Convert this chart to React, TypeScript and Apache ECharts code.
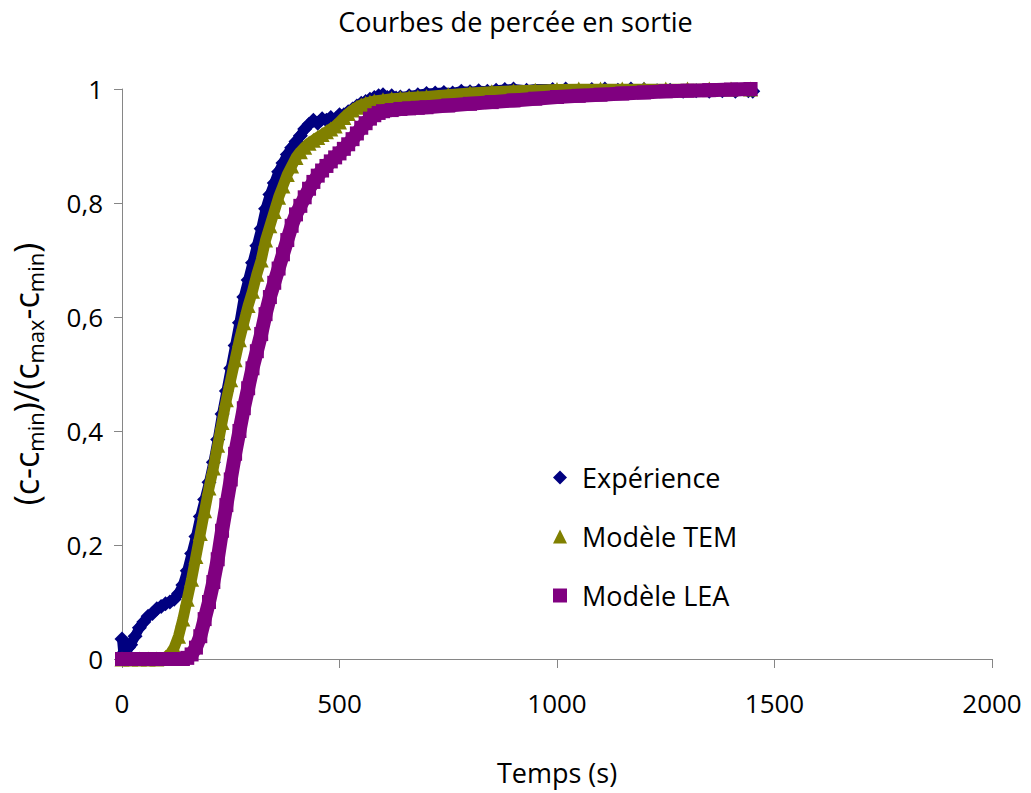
import React, { useEffect, useRef } from "react";
import * as echarts from "echarts";

const TITLE = "Courbes de percée en sortie";
const X_NAME = "Temps (s)";
const SERIES_NAMES = ["Expérience", "Modèle TEM", "Modèle LEA"];
const COLORS = ["#000080", "#808000", "#800080"];

// Expérience (time s, normalised concentration)
const expT = [0, 3, 8, 15, 20, 30, 40, 50, 60, 70, 80, 90, 100, 110, 120, 130, 140, 150, 160, 170, 180, 190,
  200, 210, 220, 230, 240, 250, 260, 270, 280, 290, 300, 310, 320, 330, 340, 350, 360, 370, 380, 390,
  400, 410, 420, 430, 440, 450, 460, 470, 480, 490, 500, 510, 520, 530, 540, 550, 560, 570, 580, 590,
  600, 610, 620, 630, 640, 660, 680, 700, 720, 740, 760, 780, 800, 820, 840, 860, 880, 900, 930, 960,
  990, 1020, 1050, 1080, 1110, 1140, 1170, 1200, 1230, 1260, 1290, 1320, 1350, 1380, 1410, 1440, 1450];
const expC = [0.035, 0.01, 0.012, 0.02, 0.025, 0.04, 0.055, 0.065, 0.075, 0.08, 0.088, 0.092, 0.097, 0.1, 0.105, 0.115, 0.13, 0.155, 0.185, 0.215, 0.25, 0.28,
  0.31, 0.345, 0.385, 0.43, 0.47, 0.51, 0.55, 0.59, 0.635, 0.665, 0.695, 0.725, 0.755, 0.79, 0.815, 0.835, 0.855, 0.87, 0.885, 0.897,
  0.908, 0.918, 0.93, 0.938, 0.945, 0.94, 0.948, 0.945, 0.95, 0.945, 0.955, 0.955, 0.96, 0.965, 0.97, 0.975, 0.978, 0.982, 0.985, 0.988,
  0.99, 0.985, 0.988, 0.984, 0.986, 0.988, 0.99, 0.992, 0.993, 0.994, 0.993, 0.996, 0.995, 0.997, 0.996, 0.998, 0.999, 1.0, 0.998, 1.001,
  0.999, 1.0, 1.002, 0.999, 1.0, 0.998, 1.0, 0.999, 0.997, 0.998, 0.996, 0.997, 0.996, 0.997, 0.996, 0.997, 0.996];

// Modèle TEM
const temT = [0, 20, 40, 60, 80, 100, 110, 120, 130, 140, 150, 160, 170, 180, 190, 200, 210, 220, 230, 240, 250, 260,
  270, 280, 290, 300, 310, 320, 330, 340, 350, 360, 370, 380, 390, 400, 410, 420, 430, 440, 450, 460, 470,
  480, 490, 500, 510, 520, 530, 540, 550, 560, 570, 580, 600, 620, 640, 660, 680, 700, 750, 800, 850, 900,
  950, 1000, 1050, 1100, 1150, 1200, 1250, 1300, 1350, 1400, 1445];
const temC = [0, 0, 0, 0, 0, 0.003, 0.008, 0.02, 0.04, 0.07, 0.105, 0.14, 0.18, 0.22, 0.26, 0.3, 0.335, 0.375, 0.415, 0.455, 0.49, 0.525,
  0.56, 0.59, 0.62, 0.645, 0.675, 0.7, 0.735, 0.76, 0.785, 0.81, 0.83, 0.85, 0.865, 0.88, 0.89, 0.898, 0.905, 0.91, 0.915, 0.92, 0.925,
  0.93, 0.935, 0.942, 0.95, 0.957, 0.963, 0.968, 0.972, 0.975, 0.977, 0.979, 0.981, 0.983, 0.984, 0.985, 0.986, 0.987, 0.99, 0.993, 0.995, 0.997,
  0.998, 0.999, 1.0, 1.0, 1.0, 1.0, 1.0, 1.0, 1.0, 1.0, 1.0];

// Modèle LEA
const leaT = [0, 20, 40, 60, 80, 100, 120, 140, 150, 160, 170, 180, 190, 200, 210, 220, 230, 240, 250, 260, 270, 280,
  290, 300, 310, 320, 330, 340, 350, 360, 370, 380, 390, 400, 410, 420, 430, 440, 450, 460, 470, 480, 490,
  500, 510, 520, 530, 540, 550, 560, 570, 580, 590, 600, 620, 640, 660, 680, 700, 750, 800, 850, 900, 950,
  1000, 1050, 1100, 1150, 1200, 1250, 1300, 1350, 1400, 1445];
const leaC = [0, 0, 0, 0, 0, 0, 0, 0, 0.002, 0.008, 0.02, 0.04, 0.07, 0.1, 0.135, 0.175, 0.225, 0.27, 0.315, 0.36, 0.4, 0.44,
  0.475, 0.51, 0.54, 0.57, 0.605, 0.635, 0.66, 0.685, 0.71, 0.735, 0.76, 0.78, 0.795, 0.81, 0.825, 0.837, 0.848, 0.857, 0.865, 0.873, 0.88,
  0.887, 0.895, 0.903, 0.912, 0.922, 0.932, 0.94, 0.948, 0.954, 0.958, 0.961, 0.963, 0.965, 0.966, 0.967, 0.968, 0.971, 0.974, 0.977, 0.98, 0.983,
  0.986, 0.988, 0.99, 0.992, 0.994, 0.996, 0.997, 0.998, 0.999, 1.0];

const FONT = "'Open Sans', sans-serif";

function pairs(t: number[], c: number[]) {
  return t.map((x, i) => [x, c[i]]);
}

export default function App() {
  const ref = useRef<HTMLDivElement>(null);
  useEffect(() => {
    if (!ref.current) return;
    const chart = echarts.init(ref.current, undefined, { renderer: "svg" });
    const axisLine = { show: true, lineStyle: { color: "#868686", width: 1 } };
    const mk = (i: number, t: number[], c: number[], symbol: string, size: number, lw: number) => ({
      name: SERIES_NAMES[i],
      type: "line",
      data: pairs(t, c),
      symbol,
      symbolSize: size,
      showSymbol: true,
      showAllSymbol: true,
      itemStyle: { color: COLORS[i] },
      lineStyle: { color: COLORS[i], width: lw },
      z: 2 + i,
    });
    chart.setOption({
      animation: false,
      backgroundColor: "#ffffff",
      textStyle: { fontFamily: FONT },
      title: {
        text: TITLE,
        left: "center",
        top: 3,
        textStyle: { fontFamily: FONT, fontSize: 27, fontWeight: "normal", color: "#000" },
      },
      legend: {
        orient: "vertical",
        left: 548,
        top: 459,
        itemWidth: 14,
        itemHeight: 14,
        itemGap: 32,
        data: [
          { name: SERIES_NAMES[0], icon: "diamond" },
          { name: SERIES_NAMES[1], icon: "triangle" },
          { name: SERIES_NAMES[2], icon: "rect" },
        ],
        textStyle: { fontFamily: FONT, fontSize: 27, color: "#000", lineHeight: 26, padding: [0, 0, 0, 10] },
      },
      grid: { left: 122, right: 39, top: 89, bottom: 134, containLabel: false },
      xAxis: {
        type: "value",
        min: 0,
        max: 2000,
        interval: 500,
        name: X_NAME,
        nameLocation: "middle",
        nameGap: 100,
        nameTextStyle: { fontFamily: FONT, fontSize: 27, color: "#000" },
        axisLine,
        axisTick: { show: true, length: 9, lineStyle: { color: "#868686" } },
        axisLabel: {
          fontFamily: FONT,
          fontSize: 26,
          color: "#000",
          margin: 31,
          formatter: (v: number) => String(v),
        },
        splitLine: { show: false },
      },
      yAxis: {
        type: "value",
        min: 0,
        max: 1,
        interval: 0.2,
        name: "{n|(c-c}{s|min}{n|)/(c}{s|max}{n|-c}{s|min}{n|)}",
        nameLocation: "middle",
        nameGap: 76,
        nameRotate: 90,
        nameTextStyle: {
          rich: {
            n: { fontFamily: FONT, fontSize: 34, color: "#000", lineHeight: 40, verticalAlign: "middle" },
            s: { fontFamily: FONT, fontSize: 22, color: "#000", lineHeight: 19, verticalAlign: "bottom" },
          },
        },
        axisLine,
        axisTick: { show: true, length: 8, lineStyle: { color: "#868686" } },
        axisLabel: {
          fontFamily: FONT,
          fontSize: 26,
          color: "#000",
          margin: 19,
          formatter: (v: number) => String(Math.round(v * 10) / 10).replace(".", ","),
        },
        splitLine: { show: false },
      },
      series: [
        mk(0, expT, expC, "diamond", 15, 10),
        mk(1, temT, temC, "triangle", 15, 11),
        mk(2, leaT, leaC, "rect", 14, 14),
      ],
    });
    return () => chart.dispose();
  }, []);
  return (
    <div
      ref={ref}
      style={{ position: "absolute", left: 0, top: 0, width: 1031, height: 793, background: "#fff" }}
    />
  );
}
